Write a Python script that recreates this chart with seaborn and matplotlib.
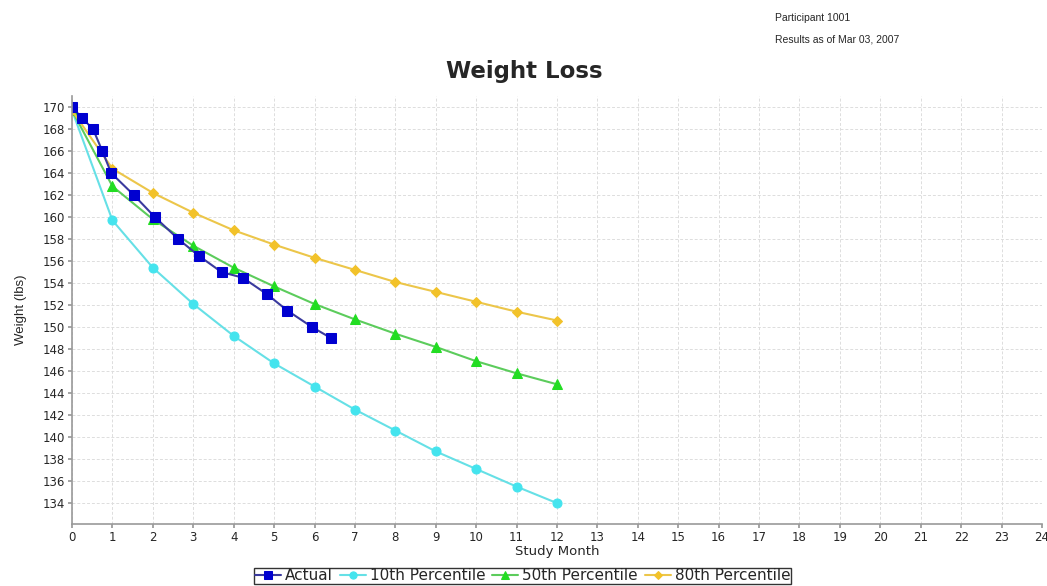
import matplotlib
matplotlib.use("Agg")
import matplotlib.pyplot as plt
import seaborn as sns
import pandas as pd

sns.set_theme(style="white")
plt.rcParams['font.family'] = ['DejaVu Sans']

# Actual weigh-ins
actual_month = [0, 0.25, 0.52, 0.75, 0.97, 1.53, 2.05, 2.63, 3.13, 3.7, 4.22, 4.82, 5.33, 5.94, 6.41]
actual_weight = [170, 169, 168, 166, 164, 162, 160, 158, 156.5, 155, 154.5, 153, 151.5, 150, 149]

# Percentile curves, months 0..12
pct_month = [0, 1, 2, 3, 4, 5, 6, 7, 8, 9, 10, 11, 12]
p10 = [169.7, 159.7, 155.4, 152.1, 149.2, 146.7, 144.6, 142.5, 140.6, 138.7, 137.1, 135.5, 134.0]
p50 = [169.7, 162.8, 159.8, 157.4, 155.4, 153.7, 152.1, 150.7, 149.4, 148.2, 146.9, 145.8, 144.8]
p80 = [169.7, 164.4, 162.2, 160.4, 158.8, 157.5, 156.3, 155.2, 154.1, 153.2, 152.3, 151.4, 150.6]

series = [
    ("Actual", actual_month, actual_weight, "#3a3a9e", "#0000d0", "s", 7),
    ("10th Percentile", pct_month, p10, "#66e0e6", "#44e4ee", "o", 6.5),
    ("50th Percentile", pct_month, p50, "#5ccc5c", "#22dd22", "^", 6.5),
    ("80th Percentile", pct_month, p80, "#ecc64a", "#f2c22a", "D", 5),
]

fig = plt.figure(figsize=(10.47, 5.86), dpi=100)
ax = fig.add_axes([0.0688, 0.1058, 0.9264, 0.7302])

# draw the percentile lines first so Actual sits on top
for name, xs, ys, lc, mc, mk, ms in series[1:] + series[:1]:
    df = pd.DataFrame({"month": xs, "weight": ys})
    sns.lineplot(data=df, x="month", y="weight", ax=ax, sort=False,
                 color=lc, lw=1.5, marker=mk, markersize=ms,
                 markerfacecolor=mc, markeredgecolor=mc, label=name)

ax.set_xlim(0, 24)
ax.set_ylim(132.1, 171)
ax.set_xticks(range(0, 25))
ax.set_yticks(range(134, 171, 2))
ax.tick_params(axis="both", labelsize=8.5, length=3, color="#999999", direction="out",
               bottom=True, left=True, pad=2)
ax.grid(True, color="#dddddd", linestyle=(0, (3, 2)), lw=0.7)
for side in ["top", "right"]:
    ax.spines[side].set_visible(False)
for side in ["left", "bottom"]:
    ax.spines[side].set_color("#999999")
    ax.spines[side].set_linewidth(1.2)

ax.set_xlabel("Study Month", fontsize=9.5, labelpad=1)
ax.set_ylabel("Weight (lbs)", fontsize=9.5, labelpad=11,
              family=['Liberation Sans Narrow', 'Liberation Sans'])
ax.set_title("Weight Loss", fontsize=16.5, fontweight="bold", pad=13, x=0.466)

fig.text(0.74, 0.965, "Participant 1001", fontsize=7.5, family=['Liberation Sans'])
fig.text(0.74, 0.928, "Results as of Mar 03, 2007", fontsize=7.5, family=['Liberation Sans'])

handles, labels = ax.get_legend_handles_labels()
order = [labels.index(s[0]) for s in series]
leg = ax.legend([handles[i] for i in order], [labels[i] for i in order],
                loc="upper center", bbox_to_anchor=(0.4645, -0.103), ncol=4,
                fontsize=11, frameon=True, fancybox=False, handlelength=1.7,
                handletextpad=0.27, columnspacing=0.45, borderpad=0.02,
                borderaxespad=0, markerscale=0.8)
leg.get_frame().set_edgecolor("black")
leg.get_frame().set_linewidth(1.0)

fig.savefig("out.png", dpi=100)
